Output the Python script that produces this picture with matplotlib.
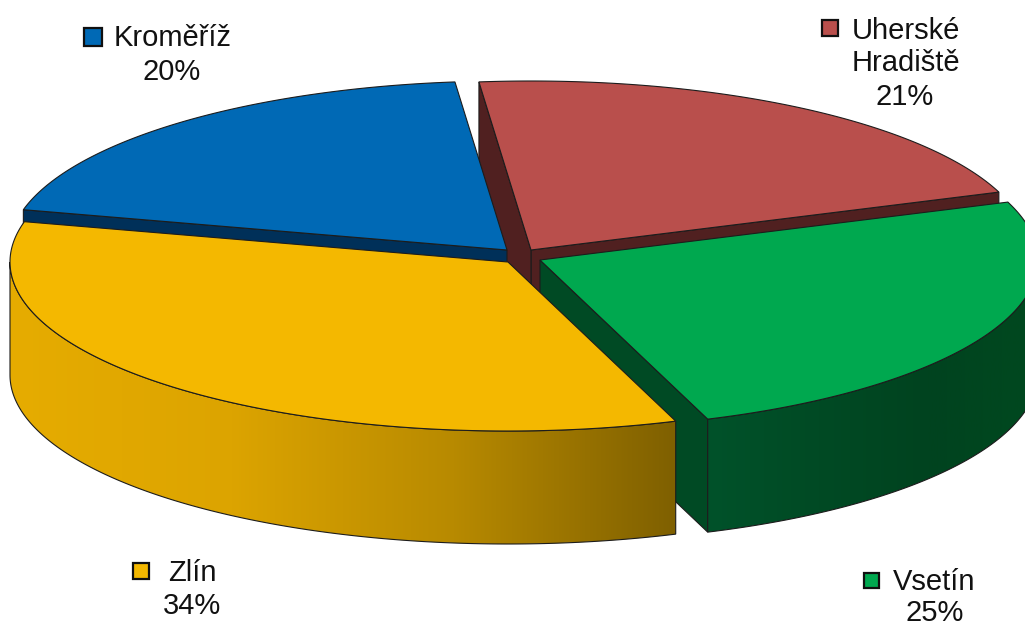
import numpy as np
import matplotlib
matplotlib.use("Agg")
import matplotlib.pyplot as plt
from matplotlib.patches import Polygon, Rectangle
from matplotlib.colors import LinearSegmentedColormap

plt.rcParams['font.family'] = ['Liberation Sans', 'DejaVu Sans']

# data, going counter-clockwise from the top
okresy = ["Kroměříž", "Zlín", "Vsetín", "Uherské\nHradiště"]
podil = [19.5, 34.3, 25.1, 21.1]

# colours
barvy = ["#0069B5", "#F4B800", "#00A84F", "#B94F4C"]
rezy = ["#003059", "#7F6000", "#004A24", "#502020"]
plast = [
    ["#003059", "#003059"],
    ["#E6AC00", "#DCA400", "#B88A00", "#7F6000"],
    ["#00522A", "#004A24", "#00431F", "#00491F"],
    ["#502020", "#502020"],
]

# layout, in pixels of the picture
start = 96.0
rx, ry, hloubka = 498, 169, 113
stredy = [(507, 250), (508, 262), (540, 260), (531, 250)]
klice = [(84, 28, 18), (133, 563, 16), (864, 573, 15), (822, 20, 16)]
popisky = [(173, 38), (192, 573), (934, 582), (906, 47)]
procenta = [(172, 72), (192, 606), (935, 613), (905, 97)]
poradi = [3, 2, 0, 1]  # back slices first, yellow has to end up on top
obrys = "#1c1c1c"


def oblouk(c, a1, a2):
    t = np.radians(np.linspace(a1, a2, 200))
    return np.column_stack([c[0] + rx * np.cos(t), c[1] - ry * np.sin(t)])


def rez(c, a):
    t = np.radians(a)
    k = (c[0] + rx * np.cos(t), c[1] - ry * np.sin(t))
    return [c, k, (k[0], k[1] + hloubka), (c[0], c[1] + hloubka)]


fig = plt.figure(figsize=(10.25, 6.26), dpi=100)
ax = fig.add_axes([0, 0, 1, 1])

uhly = start + np.concatenate([[0], np.cumsum(podil)]) * 3.6
rozsahy = list(zip(uhly[:-1], uhly[1:]))

for n, i in enumerate(poradi):
    c = stredy[i]
    a1, a2 = rozsahy[i]
    z = 1 + n * 4

    # cut faces, only the ones turned to the viewer
    if np.sin(np.radians(a1 - 90)) < 0:
        ax.add_patch(Polygon(rez(c, a1), fc=rezy[i], ec=obrys, lw=0.8, zorder=z))
    if np.sin(np.radians(a2 + 90)) < 0:
        ax.add_patch(Polygon(rez(c, a2), fc=rezy[i], ec=obrys, lw=0.8, zorder=z))

    # outer wall, front half of the ellipse only
    b1, b2 = max(a1, 180), min(a2, 360)
    if b1 < b2:
        hrana = oblouk(c, b1, b2)
        obvod = np.vstack([hrana, hrana[::-1] + [0, hloubka]])
        cmap = LinearSegmentedColormap.from_list("p%d" % i, plast[i])
        im = ax.imshow(np.linspace(0, 1, 256)[None, :], cmap=cmap, aspect="auto",
                       extent=[obvod[:, 0].min(), obvod[:, 0].max(), 626, 0], zorder=z + 1)
        stena = Polygon(obvod, fc="none", ec=obrys, lw=0.8, zorder=z + 2)
        ax.add_patch(stena)
        im.set_clip_path(stena)

    vrch = np.vstack([[c], oblouk(c, a1, a2)])
    ax.add_patch(Polygon(vrch, fc=barvy[i], ec=obrys, lw=0.8, zorder=z + 3))

# labels with their little colour squares
for i in range(4):
    kx, ky, ks = klice[i]
    ax.add_patch(Rectangle((kx, ky), ks, ks, fc=barvy[i], ec="#101010", lw=1.6, zorder=30))
    ax.text(popisky[i][0], popisky[i][1], okresy[i], fontsize=21, color="#111111",
            ha="center", va="center", linespacing=1.17, zorder=31)
    ax.text(procenta[i][0], procenta[i][1], "%.0f%%" % podil[i], fontsize=21,
            color="#111111", ha="center", va="center", zorder=31)

ax.set_xlim(0, 1025)
ax.set_ylim(626, 0)
ax.axis("off")

fig.savefig("out.png", dpi=100, facecolor="white")
